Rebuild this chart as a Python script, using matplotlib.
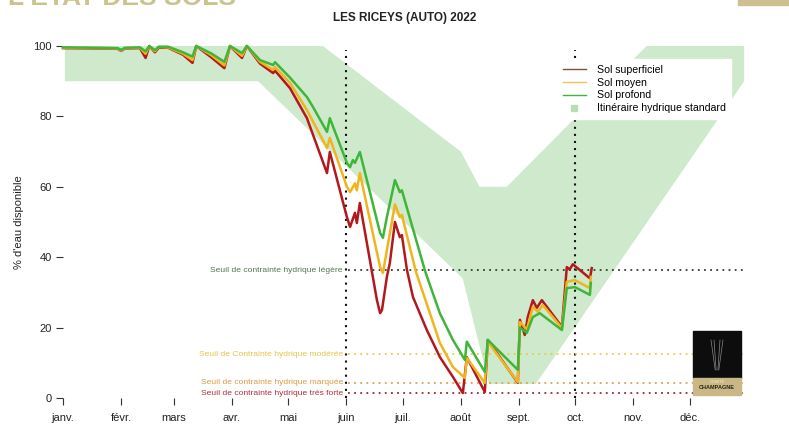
import matplotlib
matplotlib.use("Agg")
import matplotlib.pyplot as plt
from matplotlib.lines import Line2D
from matplotlib.patches import Rectangle

plt.rcParams["font.family"] = ["Liberation Sans", "DejaVu Sans"]

# month ticks (day of year)
month_days = [1, 32, 60, 91, 121, 152, 182, 213, 244, 274, 305, 335]
month_labels = ["janv.", "févr.", "mars", "avr.", "mai", "juin",
                "juil.", "août", "sept.", "oct.", "nov.", "déc."]

# itinéraire hydrique standard (band)
band_up_days = [2, 139.5, 213, 223, 237.5, 312, 364]
band_up_vals = [100, 100, 70, 60, 60, 100, 100]
band_low_days = [2, 105, 214, 228, 253, 364]
band_low_vals = [90, 90, 34, 4, 4, 90]

# Sol superficiel
sup_days = [1, 20, 30, 32, 34, 42, 45, 47, 50, 52, 57, 65, 70, 72, 80, 87, 90,
            96.4, 99, 106, 113, 114, 122, 131, 141.7, 143.2, 152.3, 154, 156.6,
            157.6, 159.2, 168.3, 170, 171, 173.6, 175.2, 177.9, 180.5, 181.6,
            184.3, 187.5, 194.9, 201.9, 208.8, 214.1, 216.2, 225.8, 227.4, 243.4,
            244.5, 247.1, 248.7, 251.4, 253.5, 256.2, 266.9, 269.5, 271, 272.7,
            281.8, 282.8]
sup_vals = [99.4, 99.3, 99.2, 98.6, 99.3, 99.4, 96.6, 100, 98.2, 99.5, 99.5, 97.5, 95.2, 100, 96.8, 93.7, 100,
            96.6, 100, 95, 92.3, 93, 88, 79.5, 63.9, 69.9, 51.4, 48.6, 52.6,
            49.7, 55.4, 27.8, 24.1, 25, 34.4, 38.4, 50, 45.7, 46.3,
            36.4, 28.7, 19.3, 11.6, 6, 1.4, 11.6, 1.7, 16.5, 4.3,
            22.2, 17.9, 23, 27.8, 25.6, 27.8, 20.2, 37.2, 36.5, 38,
            34, 36.9]

# Sol moyen
moy_days = [1, 20, 30, 32, 34, 42, 45, 47, 50, 52, 57, 65, 70, 72, 80, 87, 90,
            96.4, 99, 106, 113, 114, 122, 131, 141.7, 143.2, 152.3, 154, 156.6,
            157.6, 159.2, 170, 171.5, 173.6, 177.9, 180.5, 181.6, 189, 201.9,
            208.8, 215.2, 216.2, 225.8, 227.4, 243.4, 244.5, 248.2, 251.4, 254.1,
            256.7, 266.9, 269.5, 273.8, 281.8, 282.3]
moy_vals = [99.5, 99.4, 99.3, 98.7, 99.4, 99.5, 97.8, 100, 98.5, 99.7, 99.6, 97.8, 96, 100, 97.4, 94.5, 100,
            97.2, 100, 95.5, 93.2, 94, 89.5, 81.8, 71, 73.9, 60, 58.5, 61,
            59, 63.9, 37.2, 35.5, 42, 55, 51.4, 52, 36, 15.6,
            8.8, 5.7, 11.4, 4.3, 16, 4.5, 21.6, 19.5, 25.9, 24.5,
            26.4, 19.9, 33, 33.5, 31.2, 34.4]

# Sol profond
pro_days = [1, 20, 30, 32, 34, 42, 45, 47, 50, 52, 57, 65, 70, 72, 80, 87, 90,
            96.4, 99, 106, 113, 114, 122, 131, 134.2, 141.7, 143.2, 152.3, 154,
            155.5, 156.6, 159.2, 170, 171.5, 173.6, 177.9, 180.5, 181.6, 194,
            201.9, 208.8, 215.2, 216.2, 225.8, 227.4, 243.4, 244.5, 248.2, 251.4,
            255.1, 266.9, 269.5, 273.8, 281.8, 282.3]
pro_vals = [99.6, 99.5, 99.4, 98.9, 99.5, 99.6, 98.5, 100, 98.8, 99.8, 99.8, 98.2, 97, 100, 97.9, 95.5, 100,
            98, 100, 96, 94.6, 95.4, 91, 85.5, 82.7, 75.6, 79.5, 66.8, 65.6,
            67.6, 66.8, 69.9, 46.9, 45.5, 51.4, 61.9, 58.5, 59, 36,
            24, 16.5, 10.8, 16, 7.4, 16.5, 8, 20, 18.5, 23,
            24.1, 19.3, 31.2, 31.5, 29.3, 32.7]

# seuils de contrainte hydrique
seuil_labels = ["Seuil de contrainte hydrique légère",
                "Seuil de Contrainte hydrique modérée",
                "Seuil de contrainte hydrique marquée",
                "Seuil de contrainte hydrique très forte"]
seuil_vals = [36.3, 12.5, 4.3, 1.4]
seuil_line_colors = ["#333d33", "#e4cf45", "#d9a14e", "#9c2430"]
seuil_text_colors = ["#4f7a4f", "#e8c448", "#dc9a45", "#b0303a"]

vline_days = [152, 274]

c_sup, c_moy, c_pro = "#b3181c", "#f0b51e", "#3fb63a"
c_band = "#cfe9cd"

fig = plt.figure(figsize=(7.89, 4.24), dpi=100)
ax = fig.add_axes([63 / 789, 26 / 424, (746 - 63) / 789, (398 - 46) / 424])
ax.set_xlim(1, 365)
ax.set_ylim(0, 100)

ax.fill(band_up_days + band_low_days[::-1], band_up_vals + band_low_vals[::-1],
        color=c_band, lw=0, zorder=1)

dots = (0, (1, 2.4))
for d in vline_days:
    ax.plot([d, d], [0, 99], color="#111111", lw=1.5, ls=dots, zorder=2, clip_on=False)
for v, lc, tc, lab in zip(seuil_vals, seuil_line_colors, seuil_text_colors, seuil_labels):
    ax.plot([153, 364], [v, v], color=lc, lw=1.3, ls=dots, zorder=2)
    ax.text(150.2, v, lab, ha="right", va="center", fontsize=6.1, color=tc)

ax.plot(sup_days, sup_vals, color=c_sup, lw=1.8, zorder=3, clip_on=False,
        solid_joinstyle="round", label="Sol superficiel")
ax.plot(moy_days, moy_vals, color=c_moy, lw=1.8, zorder=4, clip_on=False,
        solid_joinstyle="round", label="Sol moyen")
ax.plot(pro_days, pro_vals, color=c_pro, lw=1.8, zorder=5, clip_on=False,
        solid_joinstyle="round", label="Sol profond")

handles = [Line2D([], [], color="#8a4a40", lw=1.0),
           Line2D([], [], color="#f3c25a", lw=1.0),
           Line2D([], [], color="#3fb63a", lw=1.0),
           Line2D([], [], color="#b8ddb5", marker="s", ls="none", markersize=5)]
leg = ax.legend(handles, ["Sol superficiel", "Sol moyen", "Sol profond",
                          "Itinéraire hydrique standard"],
                loc="upper right", bbox_to_anchor=(736 / 789, 1 - 54 / 424),
                bbox_transform=fig.transFigure, fontsize=7.6, frameon=True,
                fancybox=False, framealpha=1, edgecolor="white",
                handlelength=2.2, handletextpad=1.0, labelspacing=0.28,
                borderpad=0.5)
leg.set_zorder(10)

for s in ax.spines.values():
    s.set_visible(False)
ax.set_xticks(month_days)
ax.set_xticklabels(month_labels)
ax.set_yticks([0, 20, 40, 60, 80, 100])
ax.tick_params(axis="both", direction="out", length=5, width=0.8,
               color="#333333", labelsize=8, labelcolor="#222222")
ax.tick_params(axis="x", pad=5.5)
ax.tick_params(axis="y", pad=3)
ax.set_ylabel("% d'eau disponible", fontsize=8, labelpad=7, color="#222222")

fig.text(404.5 / 789, 1 - 18 / 424, "LES RICEYS (AUTO) 2022", ha="center",
         va="center", fontsize=8.5, fontweight="bold", color="#222222")

# slide header, cropped at the top edge
fig.text(8 / 789, 1 - 5 / 424, "L'ÉTAT DES SOLS", ha="left", va="baseline",
         fontsize=19, fontweight="bold", color="#c9c38c")
fig.patches.append(Rectangle((738 / 789, 1 - 5 / 424), 51 / 789, 5 / 424,
                             transform=fig.transFigure, color="#cdbf8f"))

# Comité Champagne logo
fig.patches.append(Rectangle((693 / 789, 1 - 378 / 424), 48 / 789, 47 / 424,
                             transform=fig.transFigure, color="#0d0d0d", zorder=20))
fig.patches.append(Rectangle((693 / 789, 1 - 395 / 424), 48 / 789, 17 / 424,
                             transform=fig.transFigure, color="#c9b886", zorder=20))
for dx in (-6, -3, 3, 6):
    fig.lines.append(Line2D([(717 + dx) / 789, (717 + dx * 0.3) / 789],
                            [1 - 340 / 424, 1 - 370 / 424], transform=fig.transFigure,
                            color="#8a8a8a", lw=0.5, zorder=21))
fig.text(717 / 789, 1 - 382 / 424, "COMITÉ", ha="center", va="center",
         fontsize=2.8, color="#f2ead2", zorder=21)
fig.text(717 / 789, 1 - 387.5 / 424, "CHAMPAGNE", ha="center", va="center",
         fontsize=4, fontweight="bold", color="#2a2418", zorder=21)

fig.savefig("out.png", dpi=100)
